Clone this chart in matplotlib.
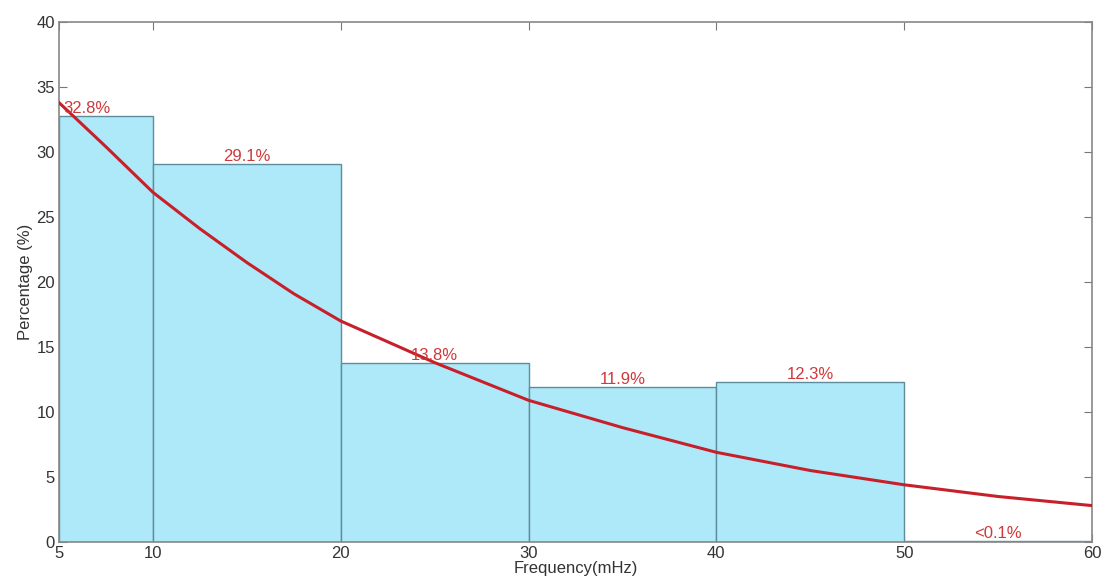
import matplotlib
matplotlib.use("Agg")
import matplotlib.pyplot as plt
import numpy as np

plt.rcParams['font.family'] = ['Liberation Sans', 'DejaVu Sans']

# Data
bin_edges = [5, 10, 20, 30, 40, 50, 60]
percentages = [32.8, 29.1, 13.8, 11.9, 12.3, 0.05]
bar_labels = ['32.8%', '29.1%', '13.8%', '11.9%', '12.3%', '<0.1%']
curve_x = [5, 7.5, 10, 12.5, 15, 17.5, 20, 25, 30, 35, 40, 45, 50, 55, 60]
curve_y = [33.8, 30.4, 26.9, 24.1, 21.5, 19.1, 17.0, 13.8, 10.9, 8.8, 6.9, 5.5, 4.4, 3.5, 2.8]
x_ticks = [5, 10, 20, 30, 40, 50, 60]
y_ticks = [0, 5, 10, 15, 20, 25, 30, 35, 40]

fig = plt.figure(figsize=(11.05, 5.85), dpi=100)
ax = fig.add_axes([59/1105, 43/585, (1092-59)/1105, (542-22)/585])

lefts = np.array(bin_edges[:-1])
widths = np.diff(bin_edges)
ax.bar(lefts, percentages, width=widths, align='edge', color='#aee9f9',
       edgecolor='#5f8c9c', linewidth=1.0, zorder=2)

ax.plot(curve_x, curve_y, color='#c8202a', linewidth=2.2, zorder=3)

for l, w, h, t in zip(lefts, widths, percentages, bar_labels):
    xc = l + w / 2
    if l == 5:
        xc = l + 1.5
    ax.text(xc, h, t, ha='center', va='bottom', color='#d0383a', fontsize=12, zorder=4)

ax.set_xlim(5, 60)
ax.set_ylim(0, 40)
ax.set_xticks(x_ticks)
ax.set_yticks(y_ticks)
ax.tick_params(direction='in', length=6, color='#777777', labelcolor='#333333',
               labelsize=12, top=True, right=True, labeltop=False, labelright=False, pad=3)
for s in ax.spines.values():
    s.set_color('#888888')
    s.set_linewidth(1.2)

ax.set_xlabel('Frequency(mHz)', fontsize=12, color='#333333', labelpad=0)
ax.set_ylabel('Percentage (%)', fontsize=12, color='#333333', labelpad=2)

fig.savefig('out.png', dpi=100)
